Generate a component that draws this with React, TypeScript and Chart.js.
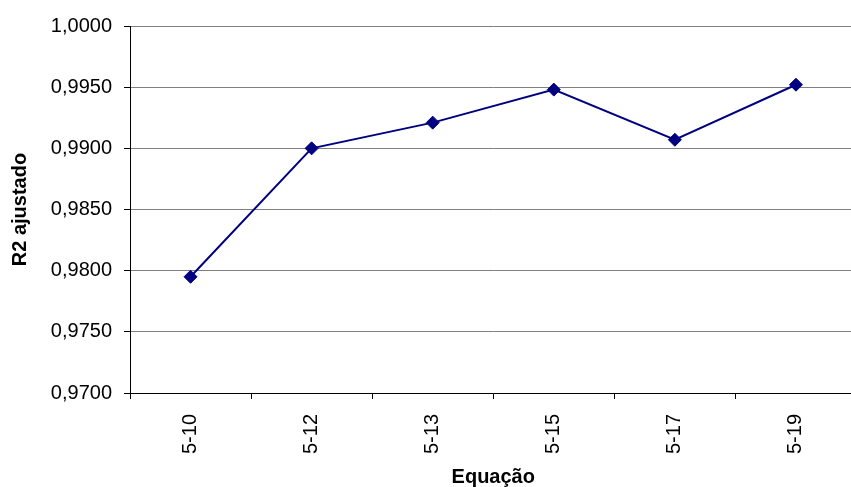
import React, { useEffect, useRef } from "react";
import { Chart, registerables } from "chart.js";

Chart.register(...registerables);

const categories = ["5-10", "5-12", "5-13", "5-15", "5-17", "5-19"];
const r2Values = [0.9795, 0.99, 0.9921, 0.9948, 0.9907, 0.9952];
const yMin = 0.97;
const yMax = 1.0;
const yStep = 0.005;
const xTitle = "Equação";
const yTitle = "R2 ajustado";

const FONT = "'Liberation Sans', Arial, sans-serif";
const NAVY = "#000080";

export default function App() {
  const ref = useRef<HTMLCanvasElement | null>(null);

  useEffect(() => {
    if (!ref.current) return;
    const chart = new Chart(ref.current, {
      type: "line",
      data: {
        labels: categories,
        datasets: [
          {
            data: r2Values,
            borderColor: NAVY,
            backgroundColor: NAVY,
            borderWidth: 2,
            pointStyle: "rectRot",
            pointRadius: 6.5,
            pointBorderWidth: 1,
            pointBackgroundColor: NAVY,
            pointBorderColor: NAVY,
            tension: 0,
          },
        ],
      },
      options: {
        responsive: false,
        animation: false,
        devicePixelRatio: 1,
        layout: { padding: { top: 26, right: 0, left: 0, bottom: 0 } },
        plugins: {
          legend: { display: false },
          tooltip: { enabled: false },
        },
        scales: {
          x: {
            type: "category",
            offset: true,
            grid: {
              offset: true,
              drawOnChartArea: false,
              drawTicks: true,
              tickLength: 6,
              tickColor: "#000000",
              color: "#000000",
            },
            border: { display: true, color: "#000000", width: 1 },
            ticks: {
              maxRotation: 90,
              minRotation: 90,
              padding: 15,
              color: "#000000",
              font: { family: FONT, size: 20 },
            },
            title: {
              display: true,
              text: xTitle,
              color: "#000000",
              padding: { top: -2, bottom: -2 },
              font: { family: FONT, size: 20, weight: "bold" },
            },
            afterFit: (s: any) => {
              s.height = 94;
            },
          },
          y: {
            min: yMin,
            max: yMax,
            grid: {
              color: "#808080",
              lineWidth: 1,
              drawTicks: true,
              tickLength: 6,
              tickColor: "#000000",
            },
            border: { display: true, color: "#000000", width: 1 },
            ticks: {
              stepSize: yStep,
              padding: 12,
              color: "#000000",
              font: { family: FONT, size: 20 },
              callback: (v: any) => Number(v).toFixed(4).replace(".", ","),
            },
            title: {
              display: true,
              text: yTitle,
              color: "#000000",
              padding: 8,
              font: { family: FONT, size: 20, weight: "bold" },
            },
            afterFit: (s: any) => {
              s.width = 130;
            },
          },
        },
      },
    });
    return () => chart.destroy();
  }, []);

  return (
    <div
      style={{
        position: "absolute",
        left: 0,
        top: 0,
        width: 851,
        height: 487,
        overflow: "hidden",
        background: "#ffffff",
      }}
    >
      <canvas ref={ref} width={864} height={487} style={{ width: 864, height: 487, display: "block" }} />
    </div>
  );
}
